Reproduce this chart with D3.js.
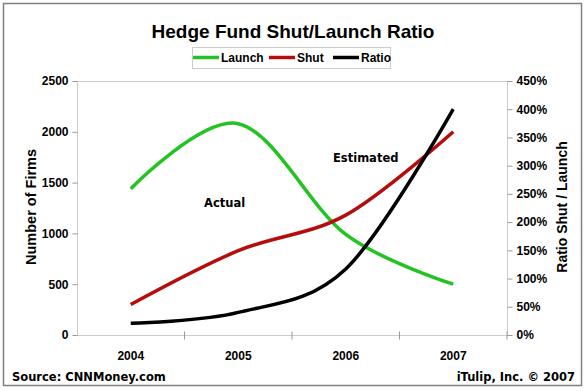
<!DOCTYPE html>
<html>
<head>
<meta charset="utf-8">
<title>Hedge Fund Shut/Launch Ratio</title>
<script src="https://d3js.org/d3.v7.min.js"></script>
<style>
  body { margin: 0; background: #fff; }
  text { font-family: "Liberation Sans", Arial, sans-serif; font-weight: bold; fill: #000; }
  .note { font-family: "DejaVu Sans", Verdana, sans-serif; font-size: 11.5px; }
</style>
</head>
<body>
<svg width="587" height="391"></svg>
<script>
const years = ['2004', '2005', '2006', '2007'];
const launch = [1440, 2080, 990, 500];
const shut = [300, 830, 1180, 2000];
const ratio = [0.21, 0.40, 1.17, 4.0];
const leftTicks = [0, 500, 1000, 1500, 2000, 2500];
const rightTicks = [0, 0.5, 1, 1.5, 2, 2.5, 3, 3.5, 4, 4.5];

const svg = d3.select('svg');
const plot = { left: 77, right: 507, top: 81, bottom: 335 };

// outer frame
svg.append('rect')
    .attr('x', 3.5).attr('y', 3.5).attr('width', 578).attr('height', 382)
    .attr('fill', '#fff').attr('stroke', '#808080').attr('stroke-width', 1.5);

const x = d3.scaleBand().domain(years).range([plot.left, plot.right]);
const yL = d3.scaleLinear().domain([0, 2500]).range([plot.bottom, plot.top]);
const yR = d3.scaleLinear().domain([0, 4.5]).range([plot.bottom, plot.top]);

// plot area border (dotted)
svg.append('rect')
    .attr('x', plot.left + 0.5).attr('y', plot.top + 0.5)
    .attr('width', plot.right - plot.left).attr('height', plot.bottom - plot.top)
    .attr('fill', 'none').attr('stroke', '#999').attr('stroke-dasharray', '1,1');

// left axis
const gl = svg.append('g').attr('transform', `translate(${plot.left + 0.5},0)`)
    .call(d3.axisLeft(yL).tickValues(leftTicks).tickSize(5).tickPadding(4)
      .tickFormat(d3.format('d')));
gl.selectAll('text').style('font-size', '12px');

// right axis
const gr = svg.append('g').attr('transform', `translate(${plot.right + 0.5},0)`)
    .call(d3.axisRight(yR).tickValues(rightTicks).tickSize(5).tickPadding(4)
      .tickFormat(d3.format('.0%')));
gr.selectAll('text').style('font-size', '12px');

// bottom axis: ticks between categories
const gb = svg.append('g').attr('transform', `translate(0,${plot.bottom + 0.5})`)
    .call(d3.axisBottom(x).tickSize(0).tickPadding(16));
gb.selectAll('text').style('font-size', '12px');
gb.selectAll('.tick').append('line')
    .attr('x1', x.bandwidth() / 2).attr('x2', x.bandwidth() / 2)
    .attr('y1', -4).attr('y2', 4).attr('stroke', '#999');

[gl, gr, gb].forEach(g => {
  g.select('.domain').remove();
  g.selectAll('.tick line').attr('stroke', '#999');
  g.selectAll('.tick text').attr('fill', '#000');
});

// lines
const cx = (d, i) => x(years[i]) + x.bandwidth() / 2;
const curve = d3.curveCardinal.tension(0);
const series = [
  { name: 'Launch', values: launch, y: yL, color: '#22c322' },
  { name: 'Shut', values: shut, y: yL, color: '#b50c0c' },
  { name: 'Ratio', values: ratio, y: yR, color: '#000' }
];
series.forEach(s => {
  svg.append('path')
      .datum(s.values)
      .attr('fill', 'none')
      .attr('stroke', s.color)
      .attr('stroke-width', 3.5)
      .attr('d', d3.line().x(cx).y(d => s.y(d)).curve(curve));
});

// title
svg.append('text').attr('x', 293).attr('y', 38).attr('text-anchor', 'middle')
    .style('font-size', '19px').text('Hedge Fund Shut/Launch Ratio');

// legend
const lg = svg.append('g');
lg.append('rect').attr('x', 192.5).attr('y', 47.5).attr('width', 198).attr('height', 21)
    .attr('fill', '#fff').attr('stroke', '#999').attr('stroke-dasharray', '1,1');
const legendPos = [193, 269, 333];
series.forEach((s, i) => {
  lg.append('line').attr('x1', legendPos[i]).attr('x2', legendPos[i] + 26)
      .attr('y1', 57.5).attr('y2', 57.5).attr('stroke', s.color).attr('stroke-width', 3.5);
  lg.append('text').attr('x', legendPos[i] + 28).attr('y', 62)
      .style('font-size', '12px').text(s.name);
});

// axis titles
svg.append('text').attr('transform', 'translate(36,207) rotate(-90)')
    .attr('text-anchor', 'middle').style('font-size', '14.5px').text('Number of Firms');
svg.append('text').attr('transform', 'translate(567,207) rotate(-90)')
    .attr('text-anchor', 'middle').style('font-size', '14px').text('Ratio Shut / Launch');

// annotations
svg.append('text').attr('class', 'note').attr('x', 204).attr('y', 207).text('Actual');
svg.append('text').attr('class', 'note').attr('x', 333).attr('y', 162).text('Estimated');
svg.append('text').attr('class', 'note').attr('x', 12).attr('y', 381).text('Source: CNNMoney.com');
svg.append('text').attr('class', 'note').attr('x', 575).attr('y', 381)
    .attr('text-anchor', 'end').text('iTulip, Inc. \u00a9 2007');
</script>
</body>
</html>
